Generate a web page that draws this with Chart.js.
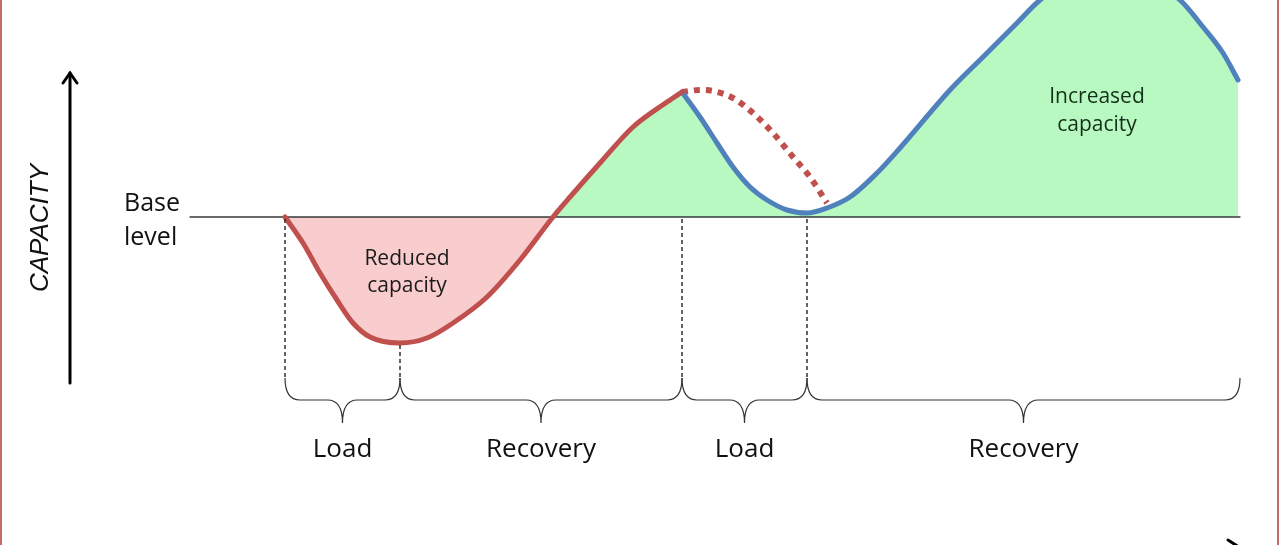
<!DOCTYPE html>
<html>
<head>
<meta charset="utf-8">
<script src="https://cdn.jsdelivr.net/npm/chart.js@4.4.0/dist/chart.umd.min.js"></script>
<style>
  html, body { margin: 0; padding: 0; background: #ffffff; }
  #wrap { width: 1280px; height: 545px; position: relative; }
</style>
</head>
<body>
<div id="wrap"><canvas id="c"></canvas></div>
<script>
// ---- Data (time on x, capacity relative to base level on y) ----
const loadRecoveryTime = [285, 303, 320, 337, 353, 370, 400, 427, 453, 487, 520, 553, 570, 600, 633, 667, 682];
const loadRecoveryCap  = [0, -26, -56, -83, -106, -120, -126, -121, -106, -80, -43, 0, 20, 54, 90, 115, 125];

const secondTime = [682, 700, 717, 733, 750, 767, 787, 807, 827, 850, 877, 900, 950, 983, 1017, 1040, 1080, 1110, 1140, 1180, 1203, 1223, 1238];
const secondCap  = [125, 100, 74, 50, 30, 17, 7, 4, 9, 20, 44, 69, 127, 160, 194, 217, 242, 252, 242, 217, 190, 164, 137];

const decayTime = [682, 700, 713, 733, 753, 773, 793, 810, 827];
const decayCap  = [125, 127, 126, 119, 104, 84, 60, 40, 14];

const baseTime = [190, 1240];
const baseCap  = [0, 0];

const phaseBounds = [285, 400, 682, 807, 1240];
const phaseDashFrom = [0, -126, 0, 0, null];
const phaseLabels = ['Load', 'Recovery', 'Load', 'Recovery'];

const toPts = (xs, ys) => xs.map((x, i) => ({ x: x, y: ys[i] }));

const RED = '#c0504d';
const BLUE = '#4f81bd';
const PINK = '#f9cdcd';
const GREEN = '#b7f9c1';

const annot = {
  id: 'annot',
  afterDraw(chart) {
    const ctx = chart.ctx;
    const xs = chart.scales.x, ys = chart.scales.y;
    const X = v => xs.getPixelForValue(v);
    const Y = v => ys.getPixelForValue(v);
    ctx.save();

    // frame edges
    ctx.strokeStyle = '#c26a6a';
    ctx.lineWidth = 2;
    ctx.beginPath(); ctx.moveTo(1, 0); ctx.lineTo(1, 545); ctx.stroke();
    ctx.beginPath(); ctx.moveTo(1278, 0); ctx.lineTo(1278, 545); ctx.stroke();

    // vertical axis arrow
    ctx.strokeStyle = '#000';
    ctx.lineWidth = 3;
    ctx.lineCap = 'round';
    ctx.beginPath(); ctx.moveTo(70, 383); ctx.lineTo(70, 73); ctx.stroke();
    ctx.beginPath(); ctx.moveTo(63, 83); ctx.lineTo(70, 73); ctx.lineTo(77, 83); ctx.stroke();
    // horizontal axis arrow (cut off at bottom)
    ctx.beginPath(); ctx.moveTo(1228, 540); ctx.lineTo(1242, 549); ctx.stroke();

    // CAPACITY label
    ctx.fillStyle = '#111';
    ctx.font = 'italic 26px "Liberation Sans", Arial, sans-serif';
    ctx.textAlign = 'center';
    ctx.textBaseline = 'middle';
    ctx.save();
    ctx.translate(41, 228);
    ctx.rotate(-Math.PI / 2);
    ctx.fillText('CAPACITY', 0, 0);
    ctx.restore();

    // base level label
    ctx.font = '25px "Open Sans", sans-serif';
    ctx.textAlign = 'left';
    ctx.textBaseline = 'alphabetic';
    ctx.fillStyle = '#111';
    ctx.fillText('Base', 124, 211);
    ctx.fillText('level', 124, 245);

    // dashed phase lines
    const braceTop = 378, braceMid = 400, braceTip = 423, r = 15;
    ctx.strokeStyle = '#222';
    ctx.lineWidth = 1.4;
    ctx.lineCap = 'butt';
    ctx.setLineDash([4, 3]);
    phaseBounds.forEach((t, i) => {
      if (phaseDashFrom[i] === null) return;
      ctx.beginPath();
      ctx.moveTo(X(t), Y(phaseDashFrom[i]) + 2);
      ctx.lineTo(X(t), braceTop);
      ctx.stroke();
    });
    ctx.setLineDash([]);

    // braces + labels
    ctx.strokeStyle = '#333';
    ctx.lineWidth = 1.2;
    for (let i = 0; i < phaseLabels.length; i++) {
      const x1 = X(phaseBounds[i]), x2 = X(phaseBounds[i + 1]);
      const c = (x1 + x2) / 2;
      ctx.beginPath();
      ctx.moveTo(x1, braceTop);
      ctx.quadraticCurveTo(x1, braceMid, x1 + r, braceMid);
      ctx.lineTo(c - r, braceMid);
      ctx.quadraticCurveTo(c, braceMid, c, braceTip);
      ctx.moveTo(c, braceTip);
      ctx.quadraticCurveTo(c, braceMid, c + r, braceMid);
      ctx.lineTo(x2 - r, braceMid);
      ctx.quadraticCurveTo(x2, braceMid, x2, braceTop);
      ctx.stroke();

      ctx.fillStyle = '#111';
      ctx.font = '26px "Open Sans", sans-serif';
      ctx.textAlign = 'center';
      ctx.fillText(phaseLabels[i], c, 457);
    }

    // area labels
    ctx.font = '21px "Open Sans", sans-serif';
    ctx.fillStyle = '#1a1a1a';
    ctx.fillText('Reduced', 407, 265);
    ctx.fillText('capacity', 407, 292);
    ctx.fillStyle = '#14301a';
    ctx.font = '21px "Open Sans", sans-serif';
    ctx.fillText('Increased', 1097, 103);
    ctx.fillText('capacity', 1097, 131);

    ctx.restore();
  }
};

new Chart(document.getElementById('c'), {
  type: 'line',
  data: {
    datasets: [
      {
        label: 'First load and recovery',
        data: toPts(loadRecoveryTime, loadRecoveryCap),
        borderColor: RED,
        borderWidth: 5,
        cubicInterpolationMode: 'monotone',
        pointRadius: 0,
        fill: { target: { value: 0 }, above: GREEN, below: PINK },
        order: 1
      },
      {
        label: 'Second load and recovery',
        data: toPts(secondTime, secondCap),
        borderColor: BLUE,
        borderWidth: 5,
        cubicInterpolationMode: 'monotone',
        pointRadius: 0,
        fill: { target: { value: 0 }, above: GREEN, below: PINK },
        order: 1
      },
      {
        label: 'Decay without new load',
        data: toPts(decayTime, decayCap),
        borderColor: RED,
        borderWidth: 6,
        borderDash: [6, 6],
        borderCapStyle: 'butt',
        cubicInterpolationMode: 'monotone',
        pointRadius: 0,
        fill: false,
        order: 2
      },
      {
        label: 'Base level',
        data: toPts(baseTime, baseCap),
        borderColor: '#3a3a3a',
        borderWidth: 1.3,
        pointRadius: 0,
        fill: false,
        order: 10
      }
    ]
  },
  options: {
    responsive: true,
    maintainAspectRatio: false,
    animation: false,
    layout: { padding: 0 },
    scales: {
      x: { type: 'linear', min: 0, max: 1280, display: false },
      y: { type: 'linear', min: -328, max: 217, display: false }
    },
    plugins: {
      legend: { display: false },
      tooltip: { enabled: false },
      filler: { drawTime: 'beforeDatasetsDraw' }
    },
    elements: { line: { borderJoinStyle: 'round', borderCapStyle: 'round' } }
  },
  plugins: [annot]
});
</script>
</body>
</html>
